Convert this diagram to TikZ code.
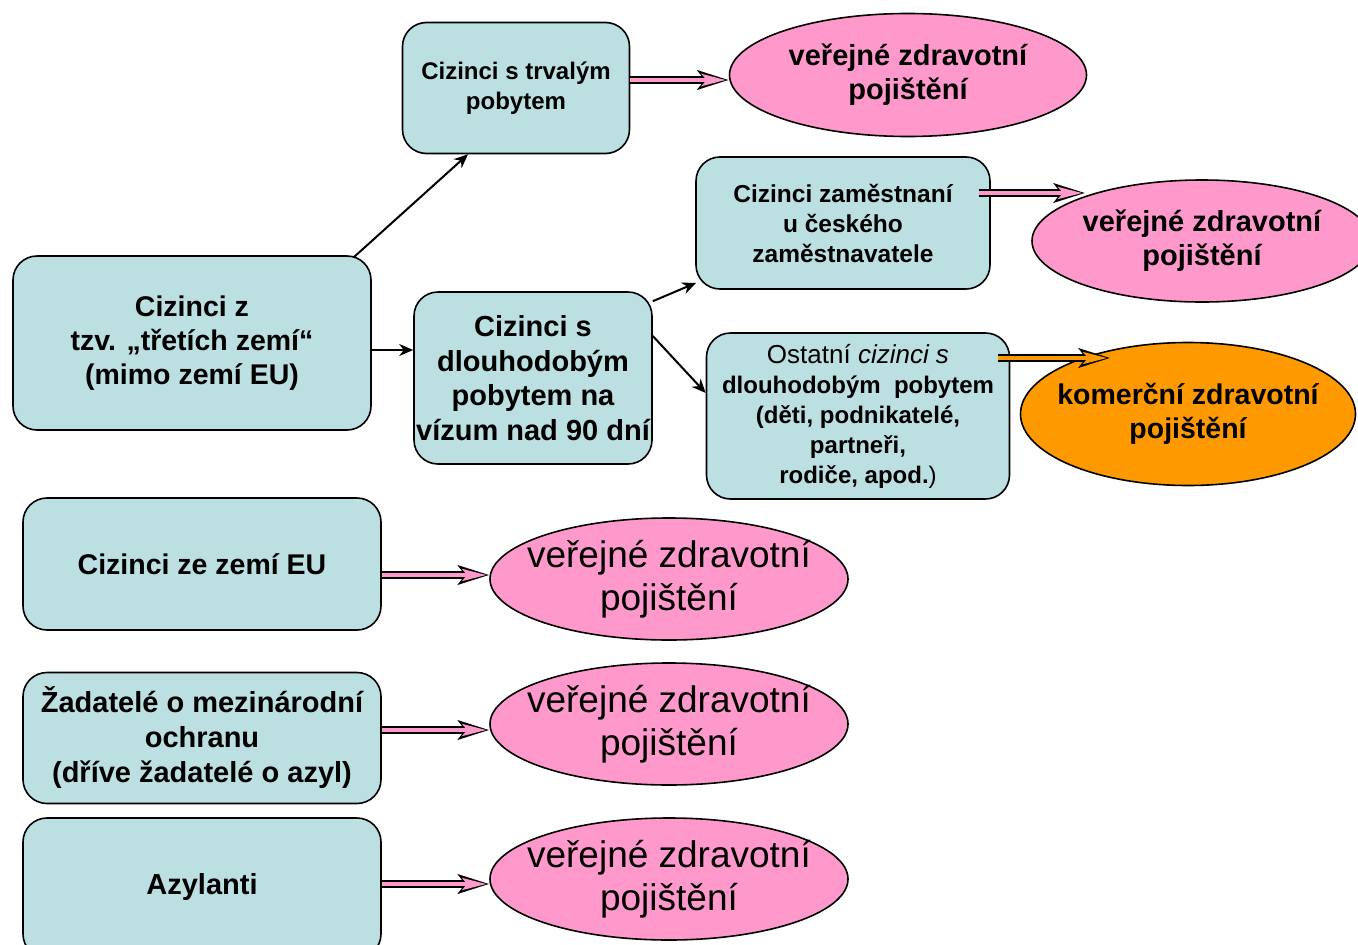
\documentclass[tikz,border=0pt]{standalone}
\usepackage{fontspec}
\setmainfont{Liberation Sans}
\usetikzlibrary{positioning, arrows.meta, shapes.geometric}
\definecolor{boxfill}{RGB}{188,224,226}
\definecolor{pinkfill}{RGB}{255,153,204}
\definecolor{orangefill}{RGB}{255,153,0}

\begin{document}
\begin{tikzpicture}[x=1pt, y=-1pt,
    box/.style={draw=black, line width=1.6pt, fill=boxfill, rounded corners=24pt,
        align=center, inner sep=0pt, font=\bfseries},
    oval/.style={draw=black, line width=1.6pt, ellipse, fill=pinkfill,
        align=center, inner xsep=-20pt, inner ysep=0pt},
    darrow/.style={-{Stealth[length=14pt, width=12pt]}, line width=2pt},
    pinkarrow/.style={line width=3.5pt, draw=pinkfill, shorten >=3pt,
        -{Stealth[length=24pt, width=12pt, inset=5pt]},
        preaction={draw=black, line width=7.5pt, shorten >=0pt,
            -{Stealth[length=31pt, width=19pt, inset=7pt]}}},
    orangearrow/.style={pinkarrow, draw=orangefill}]
    \useasboundingbox[fill=white] (0,0) rectangle (1358,945);

    % Skupiny cizinců
    \node[box, minimum width=358pt, minimum height=174pt, font=\bfseries\fontsize{28.5}{34}\selectfont]
        (tretizeme) at (192,343) {Cizinci z\\tzv. „třetích zemí“\\(mimo zemí EU)};
    \node[box, minimum width=227pt, minimum height=131pt, font=\bfseries\fontsize{24}{30}\selectfont]
        (trvaly) at (516,88) {Cizinci s trvalým\\pobytem};
    \node[box, minimum width=238pt, minimum height=172pt, font=\bfseries\fontsize{29}{34.5}\selectfont]
        (dlouhodoby) at (533,378) {Cizinci s\\dlouhodobým\\pobytem na\\vízum nad 90 dní};
    \node[box, minimum width=294pt, minimum height=132pt, font=\bfseries\fontsize{24.5}{30}\selectfont]
        (zamestnani) at (843,223) {Cizinci zaměstnaní\\u českého\\zaměstnavatele};
    \node[box, minimum width=303pt, minimum height=166pt, font=\bfseries\fontsize{24}{30}\selectfont]
        (ostatni) at (858,416) {{\mdseries\fontsize{26}{30}\selectfont Ostatní \textit{cizinci s}}\\dlouhodobým\ \ pobytem\\(děti, podnikatelé,\\partneři,\\rodiče, apod.{\mdseries)}};
    \node[box, minimum width=358pt, minimum height=132pt, font=\bfseries\fontsize{28.5}{34}\selectfont]
        (zemieu) at (202,564) {Cizinci ze zemí EU};
    \node[box, minimum width=358pt, minimum height=131pt, font=\bfseries\fontsize{29}{35}\selectfont]
        (zadatele) at (202,738) {Žadatelé o mezinárodní\\ochranu\\(dříve žadatelé o azyl)};
    \node[box, minimum width=358pt, minimum height=140pt, font=\bfseries\fontsize{29}{34}\selectfont]
        (azylanti) at (202,888) {\raisebox{8pt}{Azylanti}};

    % Pojištění
    \node[oval, minimum width=357pt, minimum height=123pt, font=\bfseries\fontsize{29}{34}\selectfont]
        (vzp1) at (908,75) {veřejné zdravotní\\pojištění};
    \node[oval, minimum width=340pt, minimum height=122pt, font=\bfseries\fontsize{29}{34}\selectfont]
        (vzp2) at (1202,241) {veřejné zdravotní\\pojištění};
    \node[oval, fill=orangefill, minimum width=335pt, minimum height=143pt, font=\bfseries\fontsize{28.5}{34}\selectfont]
        (komercni) at (1188,414) {komerční zdravotní\\pojištění};
    \foreach \name/\y in {vzp3/579, vzp4/724, vzp5/879} {
        \node[oval, minimum width=358pt, minimum height=122pt, font=\fontsize{37}{43}\selectfont]
            (\name) at (669,\y) {veřejné zdravotní\\pojištění};
    }

    % Šipky
    \draw[darrow] ([xshift=-18pt, yshift=-2pt]tretizeme.north east) -- ([xshift=-48pt]trvaly.south);
    \draw[darrow] (tretizeme.east |- 0,350) -- (dlouhodoby.west |- 0,350);
    \draw[darrow] ([yshift=-10pt]dlouhodoby.north east) -- ([xshift=1pt, yshift=7pt]zamestnani.south west);
    \draw[darrow] (dlouhodoby.east |- 0,336) -- (ostatni.west |- 0,393);

    \draw[pinkarrow] (trvaly.east |- 0,80) -- (vzp1.west |- 0,80);
    \draw[pinkarrow] ([xshift=-12pt]zamestnani.east |- 0,193) -- (1085,193);
    \draw[orangearrow] ([xshift=-12pt]ostatni.east |- 0,358) -- (1110,358);
    \draw[pinkarrow] (zemieu.east |- 0,575) -- (vzp3.west |- 0,575);
    \draw[pinkarrow] (zadatele.east |- 0,730) -- (vzp4.west |- 0,730);
    \draw[pinkarrow] (azylanti.east |- 0,884) -- (vzp5.west |- 0,884);
\end{tikzpicture}
\end{document}
